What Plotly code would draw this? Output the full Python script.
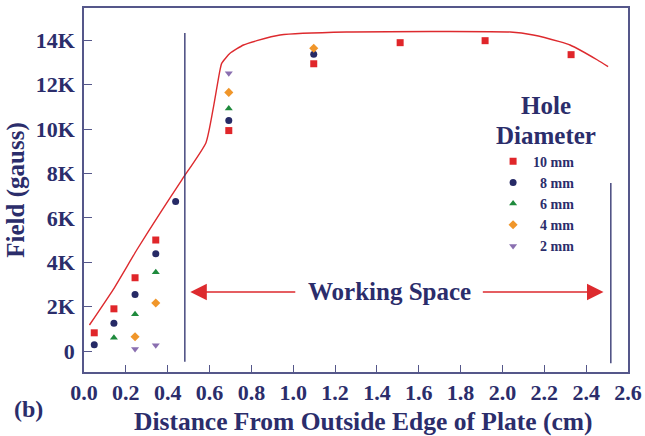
import plotly.graph_objects as go

# ---- data ----
series_names = ["10 mm", "\u20078 mm", "\u20076 mm", "\u20074 mm", "\u20072 mm"]

x_10 = [0.049, 0.143, 0.244, 0.343, 0.692, 1.098, 1.511, 1.917, 2.328]
y_10 = [820, 1900, 3300, 5000, 9930, 12940, 13890, 13980, 13350]

x_8 = [0.049, 0.143, 0.244, 0.343, 0.438, 0.692, 1.098]
y_8 = [280, 1250, 2550, 4380, 6730, 10380, 13370]

x_6 = [0.143, 0.244, 0.343, 0.692]
y_6 = [600, 1650, 3550, 10930]

x_4 = [0.244, 0.343, 0.692, 1.098]
y_4 = [640, 2160, 11650, 13640]

x_2 = [0.244, 0.343, 0.692]
y_2 = [90, 260, 12510]

# predicted field curve
curve_x = [0.026, 0.141, 0.252, 0.363, 0.467, 0.583, 0.619, 0.647, 0.658, 0.698,
           0.762, 0.826, 0.937, 1.254, 2.037, 2.147, 2.273, 2.323, 2.454, 2.505]
curve_y = [1171, 2790, 4550, 6200, 7703, 9385, 11000, 12510, 12960, 13410,
           13785, 13980, 14236, 14371, 14371, 14236, 13935, 13785, 13110, 12808]

# working-space boundaries (x) and their vertical extents (y)
bound_x = [0.482, 2.518]
bound_y0 = [-480, -555]
bound_y1 = [14330, 7570]
arrow_y = 2660
arrow_left = [0.508, 1.017]   # tip, tail
arrow_right = [2.483, 1.899]  # tip, tail
label_x = 1.458

x_range = [0, 2.6]
y_range = [-946, 15452]
y_ticks = [0, 2000, 4000, 6000, 8000, 10000, 12000, 14000]
y_tick_text = ["0", "2K", "4K", "6K", "8K", "10K", "12K", "14K"]

# ---- styling ----
NAVY = "#2b2d6b"
AXIS = "#55578a"
RED = "#dd2a2e"
FONT = "Liberation Serif"

W, H = 645, 436
PL, PR, PT, PB = 84, 628, 8, 372  # plot area in window pixels


def px(xp):
    return (xp - PL) / (PR - PL)


def py(yp):
    return (PB - yp) / (PB - PT)


fig = go.Figure()

fig.add_trace(go.Scatter(x=curve_x, y=curve_y, mode="lines",
                         line=dict(color=RED, width=1.4, shape="spline", smoothing=0.5),
                         showlegend=False, hoverinfo="skip"))

marker_specs = [
    (x_10, y_10, "square", "#e0262a", 7),
    (x_8, y_8, "circle", "#262a66", 7),
    (x_6, y_6, "triangle-up", "#1e8a3c", 7),
    (x_4, y_4, "diamond", "#f0962a", 7),
    (x_2, y_2, "triangle-down", "#8a6fb0", 7),
]
for name, (xs, ys, sym, col, sz) in zip(series_names, marker_specs):
    fig.add_trace(go.Scatter(x=xs, y=ys, mode="markers", name=name,
                             marker=dict(symbol=sym, color=col, size=sz, line=dict(width=0))))

shapes = []
for bx, b0, b1 in zip(bound_x, bound_y0, bound_y1):
    shapes.append(dict(type="line", xref="x", yref="y", x0=bx, x1=bx, y0=b0, y1=b1,
                       line=dict(color=NAVY, width=1.3)))

annotations = [
    dict(x=arrow_left[0], y=arrow_y, ax=arrow_left[1], ay=arrow_y, xref="x", yref="y", axref="x", ayref="y",
         text="", showarrow=True, arrowhead=2, arrowsize=2.2, arrowwidth=1.5, arrowcolor=RED),
    dict(x=arrow_right[0], y=arrow_y, ax=arrow_right[1], ay=arrow_y, xref="x", yref="y", axref="x", ayref="y",
         text="", showarrow=True, arrowhead=2, arrowsize=2.2, arrowwidth=1.5, arrowcolor=RED),
    dict(x=label_x, y=arrow_y, xref="x", yref="y", text="<b>Working Space</b>", showarrow=False,
         font=dict(family=FONT, size=25, color=NAVY)),
    dict(x=px(546), y=py(105), xref="paper", yref="paper", text="<b>Hole</b>", showarrow=False,
         font=dict(family=FONT, size=25, color=NAVY), xanchor="center", yanchor="middle"),
    dict(x=px(546), y=py(135), xref="paper", yref="paper", text="<b>Diameter</b>", showarrow=False,
         font=dict(family=FONT, size=25, color=NAVY), xanchor="center", yanchor="middle"),
    dict(x=px(12), y=py(409), xref="paper", yref="paper", text="<b>(b)</b>", showarrow=False,
         font=dict(family=FONT, size=24, color=NAVY), xanchor="left", yanchor="middle"),
    dict(x=px(363), y=py(421), xref="paper", yref="paper",
         text="<b>Distance From Outside Edge of Plate (cm)</b>", showarrow=False,
         font=dict(family=FONT, size=25.5, color=NAVY), xanchor="center", yanchor="middle"),
]

fig.update_layout(
    width=W, height=H,
    margin=dict(l=PL, r=W - PR, t=PT, b=H - PB, pad=0),
    paper_bgcolor="white", plot_bgcolor="white",
    font=dict(family=FONT, color=NAVY),
    shapes=shapes, annotations=annotations,
    legend=dict(x=0.752, y=0.622, xanchor="left", yanchor="top", bgcolor="rgba(0,0,0,0)",
                font=dict(family=FONT, size=14, color=NAVY, weight="bold"),
                itemwidth=30, tracegroupgap=0),
    xaxis=dict(range=x_range, dtick=0.2, tick0=0, tickformat=".1f", showgrid=False, zeroline=False,
               showline=True, linecolor=AXIS, linewidth=1.5, mirror=True, automargin=False,
               ticks="inside", ticklen=7, tickcolor=AXIS, tickwidth=1.3, ticklabeloverflow="allow",
               tickfont=dict(family=FONT, size=22, color=NAVY, weight="bold")),
    yaxis=dict(range=y_range, tickvals=y_ticks, ticktext=y_tick_text, showgrid=False, zeroline=False,
               showline=True, linecolor=AXIS, linewidth=1.5, mirror=True, automargin=False,
               ticks="inside", ticklen=8, tickcolor=AXIS, tickwidth=1.3, ticklabelstandoff=3,
               tickfont=dict(family=FONT, size=22, color=NAVY, weight="bold"),
               title=dict(text="<b>Field (gauss)</b>", standoff=4,
                          font=dict(family=FONT, size=25, color=NAVY))),
)

# remove the browser's default page margin so the figure fills the window exactly
fig.write_html("out.html", config={"displayModeBar": False},
               post_script="document.body.style.margin='0';document.body.style.overflow='hidden';")
